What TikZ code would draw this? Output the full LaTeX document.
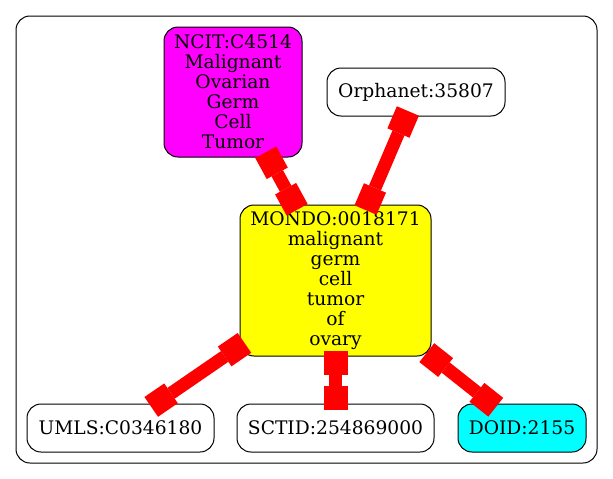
\documentclass[tikz,border=0pt]{standalone}
\usepackage{fontspec}
\setmainfont{DejaVu Serif}
\usetikzlibrary{arrows.meta}
\definecolor{gvmag}{RGB}{255,0,255}
\definecolor{gvcyan}{RGB}{0,255,255}
\definecolor{gvyellow}{RGB}{255,255,0}
\definecolor{gvred}{RGB}{255,0,0}
\begin{document}
\begin{tikzpicture}[x=1pt,y=-1pt,
  base/.style={draw=black, line width=1pt, rounded corners=14pt, align=center, inner sep=0pt,
    font=\fontsize{18.67}{20}\selectfont},
  edge/.style={draw=gvred, line width=13pt, {Square[length=24pt,width=24pt,line width=0pt]}-{Square[length=24pt,width=24pt,line width=0pt]},
    shorten <=-6pt, shorten >=-6pt}]
\useasboundingbox (0,0) rectangle (613,479);
\draw[line width=1pt, rounded corners=14pt] (16,16) rectangle (597,463);
\node[base, fill=gvmag, minimum width=138pt, minimum height=130pt] (ncit) at (233,92)
  {NCIT:C4514\\Malignant\\Ovarian\\Germ\\Cell\\Tumor};
\node[base, fill=white, minimum width=178pt, minimum height=48pt] (orpha) at (416,92) {Orphanet:35807};
\node[base, fill=gvyellow, minimum width=191pt, minimum height=151pt] (mondo) at (335.5,280.5)
  {MONDO:0018171\\malignant\\germ\\cell\\tumor\\of\\ovary};
\node[base, fill=white, minimum width=187pt, minimum height=48pt] (umls) at (120.5,428) {UMLS:C0346180};
\node[base, fill=white, minimum width=197pt, minimum height=48pt] (sctid) at (335.5,428) {SCTID:254869000};
\node[base, fill=gvcyan, minimum width=128pt, minimum height=48pt] (doid) at (522,428) {DOID:2155};
\draw[edge] (ncit) -- (mondo);
\draw[edge] (orpha) -- (mondo);
\draw[edge] (mondo) -- (umls);
\draw[edge] (mondo) -- (sctid);
\draw[edge] (mondo) -- (doid);
\end{tikzpicture}
\end{document}
